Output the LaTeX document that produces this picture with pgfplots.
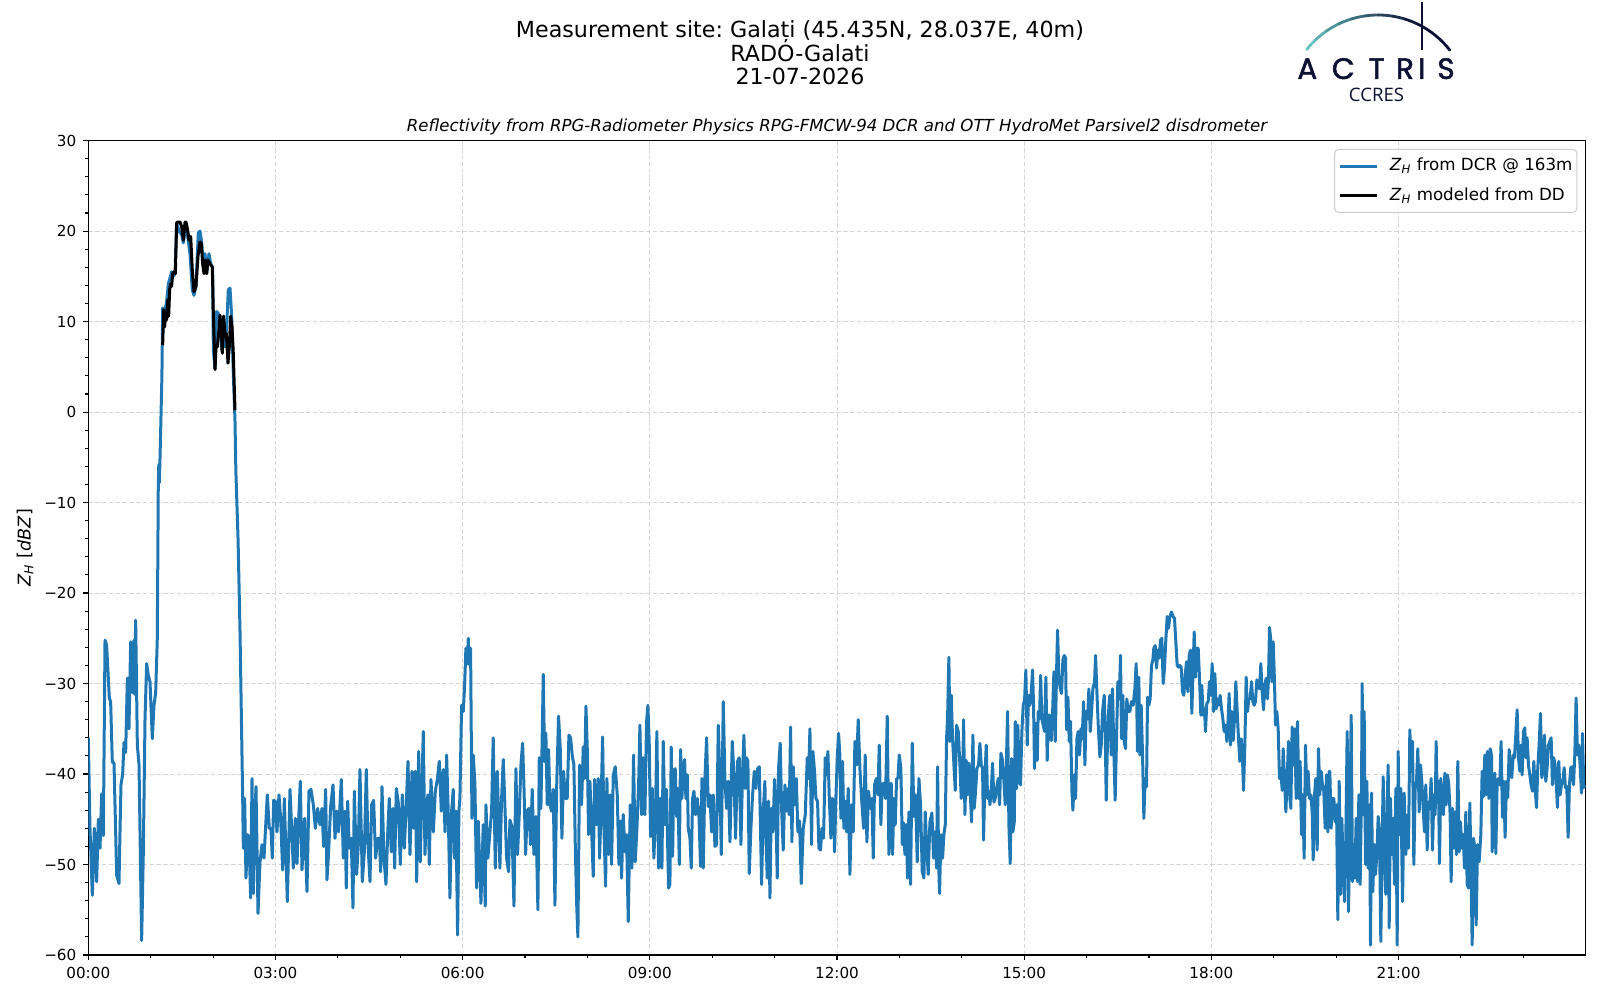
\documentclass[border=0pt]{standalone}
\usepackage{fontspec}
\setmainfont{DejaVu Sans}
\newfontfamily\logofont{Poppins}[FakeBold=1.6]
\newfontfamily\ccresfont{Open Sans}
\usepackage{pgfplots}
\pgfplotsset{compat=1.18}
\frenchspacing
\definecolor{mplblue}{HTML}{1F77B4}
\definecolor{gridgrey}{HTML}{D5D5D5}
\definecolor{legendgrey}{HTML}{CCCCCC}
\definecolor{navy}{HTML}{0D1235}
\definecolor{logoteal}{HTML}{66C2BE}
\begin{document}
\begin{tikzpicture}
\path[use as bounding box] (0,0) rectangle (800pt,500pt);
\begin{axis}[
  at={(44.15pt,22.5pt)}, anchor=south west,
  scale only axis, width=748.7pt, height=407.2pt,
  xmin=0, xmax=24, ymin=-60, ymax=30,
  xtick={0,3,6,9,12,15,18,21},
  xticklabels={00:00,03:00,06:00,09:00,12:00,15:00,18:00,21:00},
  minor xtick={1,2,4,5,7,8,10,11,13,14,16,17,19,20,22,23},
  ytick={-60,-50,-40,-30,-20,-10,0,10,20,30},
  yticklabels={−60,−50,−40,−30,−20,−10,0,10,20,30},
  minor ytick={-58,-56,-54,-52,-48,-46,-44,-42,-38,-36,-34,-32,-28,-26,-24,-22,-18,-16,-14,-12,-8,-6,-4,-2,2,4,6,8,12,14,16,18,22,24,26,28},
  tick align=outside, tick pos=left,
  major tick length=2.45pt, minor tick length=1.4pt,
  every tick/.style={black, line width=0.55pt},
  axis line style={line width=0.55pt},
  grid=major,
  major grid style={dash pattern=on 2.2pt off 1.2pt, color=gridgrey, line width=0.5pt},
  ticklabel style={font=\fontsize{7.6}{9}\selectfont},
  ylabel={\textit{Z}\textsubscript{\textit{H}} [\textit{dBZ}]},
  ylabel style={at={(axis description cs:-0.042,0.5)}, anchor=center, font=\fontsize{8.8}{10}\selectfont},
  legend cell align=left,
  legend style={at={(1,1)}, anchor=north east, xshift=-4.2pt, yshift=-4.15pt,
    draw=legendgrey, line width=0.5pt, rounded corners=2pt, fill=white, fill opacity=0.8, text opacity=1,
    font=\fontsize{8.35}{10}\selectfont, inner xsep=2.15pt, inner ysep=4.5pt, row sep=7.15pt,
    nodes={inner sep=0pt, text height=6pt, text depth=1.7pt}},
  legend image code/.code={\draw[#1, line width=1.5pt] (0pt,0pt) -- (18.3pt,0pt); \path (0pt,-1pt) (24pt,1pt);},
]
\addplot[color=mplblue, line width=1.5pt, line join=round] table {
x y
0.000 -36.0
0.027 -46.0
0.065 -53.4
0.097 -46.0
0.134 -51.9
0.161 -45.0
0.188 -48.2
0.214 -42.2
0.241 -46.8
0.268 -25.2
0.294 -25.8
0.337 -31.6
0.358 -32.0
0.385 -38.7
0.412 -38.8
0.455 -51.2
0.492 -52.1
0.508 -46.4
0.524 -41.2
0.551 -40.0
0.572 -36.5
0.599 -37.6
0.626 -29.4
0.652 -35.0
0.679 -25.4
0.706 -31.0
0.732 -25.2
0.743 -31.2
0.759 -23.0
0.786 -36.8
0.813 -39.0
0.855 -58.4
0.882 -48.6
0.909 -33.9
0.935 -27.8
0.962 -29.1
0.989 -29.8
1.026 -36.1
1.053 -32.4
1.080 -31.0
1.106 -25.0
1.122 -7.8
1.130 -5.8
1.140 -7.8
1.160 -2.0
1.180 4.0
1.192 11.5
1.229 11.3
1.256 12.2
1.283 14.2
1.309 14.8
1.336 15.5
1.363 15.0
1.390 15.3
1.416 20.9
1.454 20.0
1.496 19.6
1.523 18.7
1.560 20.5
1.593 19.4
1.630 17.5
1.667 13.5
1.694 12.9
1.726 13.9
1.763 19.8
1.790 20.0
1.817 18.8
1.844 16.1
1.870 17.5
1.897 15.3
1.934 17.5
1.961 16.4
1.993 16.0
2.004 6.9
2.031 4.8
2.057 11.1
2.084 10.9
2.111 10.2
2.137 6.9
2.164 10.2
2.191 7.2
2.218 9.5
2.244 13.5
2.271 13.7
2.298 10.6
2.324 4.3
2.351 -0.9
2.365 -6.5
2.400 -14.0
2.431 -24.0
2.474 -42.5
2.485 -48.2
2.506 -42.7
2.527 -51.5
2.554 -46.7
2.575 -47.1
2.602 -53.7
2.624 -40.5
2.645 -53.2
2.666 -45.2
2.688 -41.4
2.720 -55.4
2.752 -49.7
2.784 -47.8
2.816 -49.3
2.869 -42.3
2.901 -46.0
2.928 -46.0
2.949 -49.3
2.971 -42.9
2.998 -43.0
3.024 -46.4
3.056 -42.3
3.083 -44.9
3.115 -50.6
3.142 -42.7
3.190 -54.1
3.233 -41.7
3.286 -50.4
3.318 -44.9
3.345 -49.9
3.371 -45.2
3.398 -40.8
3.425 -50.6
3.468 -44.9
3.505 -53.0
3.537 -41.9
3.569 -41.7
3.607 -43.4
3.639 -46.0
3.676 -43.8
3.713 -45.6
3.745 -43.8
3.772 -48.0
3.804 -41.7
3.825 -51.7
3.852 -48.6
3.884 -43.6
3.922 -41.2
3.954 -47.1
3.980 -44.1
4.012 -46.4
4.055 -40.6
4.087 -49.3
4.114 -44.1
4.135 -52.6
4.157 -43.0
4.183 -48.2
4.215 -47.1
4.242 -54.8
4.264 -41.9
4.301 -51.1
4.328 -47.8
4.354 -39.5
4.392 -51.9
4.424 -48.6
4.456 -39.5
4.483 -47.8
4.515 -51.9
4.541 -43.4
4.573 -42.9
4.605 -49.3
4.637 -47.1
4.664 -47.1
4.686 -50.8
4.707 -41.4
4.739 -49.3
4.771 -52.2
4.798 -46.7
4.824 -42.7
4.856 -48.6
4.883 -43.8
4.910 -50.4
4.937 -41.6
4.969 -43.2
5.001 -50.0
5.033 -42.3
5.065 -48.2
5.092 -44.1
5.124 -38.6
5.156 -48.9
5.188 -39.7
5.214 -46.0
5.241 -39.7
5.263 -51.9
5.295 -37.5
5.321 -49.7
5.348 -41.2
5.369 -35.3
5.396 -48.9
5.423 -43.4
5.444 -42.3
5.465 -50.0
5.492 -40.6
5.530 -46.4
5.562 -41.9
5.594 -40.6
5.626 -38.6
5.658 -44.1
5.690 -39.5
5.717 -46.4
5.743 -37.9
5.770 -44.5
5.796 -53.7
5.823 -44.1
5.849 -41.7
5.871 -49.3
5.892 -44.1
5.919 -57.8
5.940 -44.1
5.956 -42.7
5.983 -32.4
6.010 -33.1
6.031 -30.3
6.052 -26.1
6.074 -27.8
6.090 -25.0
6.106 -27.9
6.127 -26.1
6.149 -44.9
6.170 -37.9
6.197 -41.2
6.223 -52.6
6.250 -45.2
6.293 -54.3
6.330 -45.6
6.362 -54.6
6.373 -43.4
6.405 -49.3
6.437 -46.4
6.464 -44.1
6.490 -36.0
6.523 -50.4
6.555 -39.7
6.581 -46.0
6.597 -50.4
6.624 -42.7
6.651 -38.4
6.677 -43.4
6.704 -49.3
6.736 -50.8
6.758 -45.1
6.790 -45.8
6.822 -54.6
6.854 -39.4
6.880 -48.9
6.907 -44.5
6.934 -39.0
6.961 -36.6
6.982 -41.2
7.009 -48.9
7.035 -44.1
7.062 -43.8
7.089 -47.8
7.115 -41.7
7.142 -48.9
7.174 -44.7
7.206 -55.0
7.228 -38.2
7.254 -43.8
7.270 -37.9
7.292 -29.0
7.313 -38.6
7.334 -35.5
7.356 -43.4
7.377 -37.3
7.399 -43.4
7.425 -44.1
7.452 -41.7
7.479 -54.5
7.505 -41.9
7.537 -33.6
7.564 -37.1
7.591 -47.1
7.618 -39.7
7.644 -42.7
7.676 -42.7
7.703 -35.7
7.730 -36.0
7.756 -37.9
7.783 -39.0
7.805 -47.8
7.826 -54.1
7.847 -58.0
7.874 -39.0
7.906 -43.4
7.933 -37.0
7.954 -40.5
7.976 -32.5
7.997 -37.1
8.018 -46.7
8.040 -40.8
8.066 -46.0
8.093 -51.3
8.114 -40.6
8.146 -45.6
8.173 -40.5
8.195 -49.3
8.216 -44.1
8.243 -35.9
8.264 -45.8
8.291 -52.4
8.312 -40.5
8.339 -48.9
8.366 -42.3
8.387 -50.0
8.414 -40.1
8.446 -39.2
8.478 -42.3
8.504 -50.0
8.531 -45.2
8.547 -51.5
8.574 -44.5
8.601 -48.6
8.627 -46.7
8.654 -56.3
8.686 -43.4
8.713 -50.4
8.739 -37.9
8.766 -49.7
8.793 -46.0
8.820 -41.2
8.841 -34.6
8.868 -44.5
8.894 -38.2
8.921 -44.5
8.948 -34.2
8.969 -32.4
8.990 -36.4
9.012 -46.9
9.039 -41.6
9.065 -49.3
9.092 -44.1
9.113 -35.3
9.140 -50.4
9.167 -42.7
9.194 -50.4
9.215 -36.4
9.242 -45.6
9.268 -41.7
9.300 -52.6
9.322 -52.2
9.343 -37.0
9.365 -49.1
9.386 -39.7
9.407 -39.4
9.429 -44.7
9.450 -41.6
9.472 -50.0
9.493 -37.3
9.514 -42.7
9.536 -39.4
9.557 -38.4
9.578 -42.7
9.600 -40.1
9.616 -46.0
9.643 -47.1
9.664 -50.4
9.685 -42.7
9.707 -41.9
9.733 -44.5
9.760 -42.7
9.787 -44.5
9.813 -50.2
9.835 -40.5
9.856 -50.4
9.883 -40.5
9.910 -36.0
9.936 -43.6
9.963 -42.3
9.990 -46.4
10.016 -42.3
10.043 -48.0
10.070 -47.8
10.097 -34.6
10.123 -40.5
10.145 -48.9
10.177 -32.0
10.203 -40.5
10.230 -43.8
10.257 -40.8
10.284 -47.5
10.321 -36.4
10.348 -40.1
10.374 -47.1
10.406 -38.6
10.433 -38.2
10.460 -47.8
10.487 -39.7
10.508 -35.7
10.529 -41.6
10.551 -38.2
10.572 -38.6
10.593 -51.0
10.620 -46.0
10.647 -42.3
10.674 -39.7
10.700 -41.6
10.727 -39.4
10.754 -39.2
10.775 -46.4
10.791 -52.2
10.818 -44.1
10.844 -40.8
10.860 -46.7
10.882 -51.5
10.903 -43.0
10.925 -53.7
10.946 -43.8
10.973 -46.4
10.999 -40.6
11.021 -44.1
11.042 -51.5
11.063 -39.4
11.090 -36.6
11.112 -43.8
11.138 -48.4
11.165 -41.2
11.192 -44.1
11.218 -41.6
11.234 -44.5
11.256 -34.8
11.277 -47.5
11.299 -39.2
11.325 -43.4
11.347 -40.5
11.373 -46.4
11.400 -45.2
11.427 -52.1
11.459 -46.0
11.491 -44.5
11.523 -38.2
11.544 -40.5
11.566 -35.0
11.592 -47.8
11.614 -37.5
11.640 -39.7
11.662 -42.7
11.688 -43.0
11.710 -48.2
11.736 -48.4
11.758 -46.0
11.785 -47.1
11.811 -38.2
11.833 -40.1
11.854 -37.5
11.875 -42.3
11.902 -47.1
11.924 -42.7
11.945 -43.0
11.961 -48.6
11.982 -42.7
12.004 -38.2
12.025 -35.5
12.046 -37.9
12.062 -44.9
12.089 -38.6
12.110 -46.0
12.132 -43.0
12.153 -46.4
12.180 -41.6
12.207 -51.1
12.233 -43.4
12.260 -46.4
12.287 -36.4
12.314 -39.0
12.340 -34.0
12.367 -39.4
12.394 -42.7
12.426 -46.0
12.452 -37.9
12.479 -47.5
12.506 -41.9
12.533 -43.8
12.559 -42.7
12.581 -49.3
12.602 -41.2
12.629 -40.5
12.655 -42.3
12.677 -36.8
12.703 -45.6
12.725 -41.2
12.752 -41.0
12.778 -42.7
12.805 -33.6
12.832 -48.9
12.848 -46.4
12.869 -41.0
12.891 -48.9
12.912 -42.7
12.933 -45.6
12.955 -40.5
12.976 -40.5
12.998 -37.9
13.024 -39.4
13.046 -47.8
13.067 -45.4
13.088 -48.9
13.110 -45.6
13.131 -51.5
13.152 -44.2
13.179 -52.2
13.206 -36.6
13.233 -44.7
13.259 -42.3
13.286 -49.7
13.313 -40.5
13.339 -43.4
13.366 -50.8
13.393 -51.5
13.414 -44.2
13.436 -47.8
13.462 -51.1
13.489 -45.3
13.521 -44.3
13.548 -49.3
13.575 -46.4
13.596 -50.4
13.612 -39.2
13.628 -49.7
13.644 -53.2
13.665 -46.7
13.692 -49.3
13.713 -46.7
13.735 -45.6
13.756 -36.1
13.772 -33.9
13.793 -27.1
13.810 -36.4
13.831 -31.3
13.852 -36.1
13.874 -39.0
13.895 -41.8
13.916 -34.6
13.943 -35.3
13.970 -39.0
13.991 -42.7
14.013 -40.5
14.029 -34.0
14.050 -44.5
14.071 -38.5
14.093 -42.3
14.114 -38.8
14.135 -41.9
14.157 -45.3
14.178 -35.7
14.199 -43.8
14.221 -41.9
14.242 -39.4
14.269 -39.0
14.290 -36.6
14.312 -39.0
14.333 -39.4
14.349 -47.3
14.370 -40.5
14.392 -36.8
14.413 -42.7
14.435 -41.9
14.451 -43.4
14.472 -41.9
14.493 -38.8
14.515 -43.1
14.536 -42.7
14.557 -41.6
14.584 -40.5
14.606 -43.4
14.627 -37.7
14.648 -38.3
14.675 -40.8
14.696 -43.4
14.718 -37.9
14.734 -33.1
14.755 -45.6
14.776 -49.9
14.798 -38.3
14.819 -46.4
14.841 -45.3
14.857 -34.2
14.878 -41.6
14.899 -34.6
14.921 -40.8
14.942 -41.2
14.963 -35.3
14.985 -32.4
15.006 -31.8
15.027 -28.5
15.049 -36.8
15.070 -31.3
15.092 -32.4
15.113 -31.1
15.134 -28.5
15.150 -32.4
15.166 -39.4
15.188 -34.4
15.209 -38.5
15.225 -33.1
15.246 -33.9
15.263 -29.1
15.284 -33.9
15.305 -34.6
15.327 -35.3
15.348 -29.3
15.369 -38.5
15.391 -33.5
15.412 -33.5
15.434 -36.3
15.455 -33.3
15.476 -28.7
15.498 -36.4
15.519 -28.7
15.535 -24.1
15.556 -29.4
15.578 -30.5
15.599 -31.1
15.620 -27.4
15.642 -26.9
15.663 -27.2
15.679 -35.1
15.701 -31.5
15.722 -36.4
15.743 -34.2
15.765 -41.9
15.781 -44.0
15.802 -40.1
15.824 -42.7
15.845 -36.1
15.866 -35.3
15.888 -37.9
15.909 -35.0
15.930 -36.1
15.952 -32.0
15.973 -39.0
15.994 -33.1
16.016 -33.9
16.037 -30.6
16.059 -35.3
16.080 -33.1
16.101 -30.6
16.128 -29.8
16.144 -26.9
16.165 -30.9
16.187 -34.6
16.213 -38.1
16.235 -36.8
16.256 -33.1
16.283 -31.3
16.299 -35.3
16.315 -42.9
16.336 -36.1
16.358 -32.4
16.373 -31.3
16.394 -37.9
16.416 -30.6
16.437 -37.5
16.458 -42.9
16.480 -36.1
16.501 -29.8
16.523 -31.7
16.544 -26.9
16.560 -36.1
16.581 -31.3
16.603 -36.4
16.624 -37.2
16.645 -31.7
16.667 -33.1
16.694 -33.1
16.720 -32.0
16.747 -32.4
16.774 -30.6
16.795 -27.8
16.816 -37.5
16.838 -29.3
16.854 -37.9
16.875 -32.4
16.897 -37.9
16.918 -44.9
16.939 -40.5
16.961 -41.4
16.977 -31.5
16.998 -32.4
17.019 -31.7
17.041 -28.0
17.062 -27.4
17.078 -26.1
17.100 -25.8
17.121 -28.3
17.142 -26.3
17.164 -27.2
17.185 -25.2
17.206 -25.0
17.228 -30.0
17.249 -28.3
17.270 -25.2
17.292 -22.6
17.313 -23.9
17.335 -22.6
17.361 -22.1
17.388 -22.6
17.409 -22.8
17.431 -25.4
17.452 -28.0
17.473 -28.2
17.495 -28.0
17.516 -28.2
17.538 -30.9
17.559 -31.3
17.580 -29.1
17.602 -27.6
17.623 -30.9
17.644 -26.9
17.666 -26.3
17.687 -33.3
17.709 -28.0
17.725 -24.3
17.746 -29.3
17.767 -26.1
17.789 -26.1
17.810 -29.4
17.831 -33.5
17.847 -30.2
17.869 -33.5
17.890 -32.8
17.906 -35.3
17.927 -32.2
17.949 -32.0
17.970 -29.8
17.992 -31.3
18.013 -27.8
18.034 -33.1
18.056 -28.9
18.077 -32.8
18.098 -31.7
18.120 -32.4
18.141 -31.3
18.163 -32.8
18.184 -33.9
18.205 -35.3
18.227 -34.6
18.248 -36.4
18.269 -33.9
18.285 -31.1
18.307 -36.8
18.328 -33.1
18.350 -36.3
18.371 -33.9
18.392 -29.8
18.414 -33.1
18.435 -36.1
18.456 -38.6
18.478 -36.1
18.499 -38.3
18.515 -41.8
18.537 -36.8
18.558 -29.3
18.579 -33.1
18.601 -31.7
18.622 -31.7
18.643 -29.8
18.665 -32.0
18.686 -32.4
18.707 -32.0
18.729 -29.6
18.750 -29.8
18.772 -30.6
18.793 -27.8
18.814 -30.9
18.836 -32.9
18.857 -30.2
18.878 -29.4
18.900 -31.7
18.916 -29.4
18.932 -23.8
18.953 -25.2
18.969 -29.8
18.991 -25.4
19.012 -29.8
19.028 -34.6
19.049 -33.1
19.071 -35.0
19.092 -40.5
19.113 -39.4
19.135 -41.8
19.151 -37.2
19.172 -40.5
19.194 -44.2
19.215 -40.5
19.236 -36.4
19.258 -42.7
19.274 -43.8
19.295 -34.8
19.316 -39.0
19.338 -35.0
19.359 -42.7
19.381 -34.2
19.402 -42.7
19.423 -38.6
19.445 -46.7
19.466 -42.3
19.487 -49.3
19.509 -36.8
19.530 -42.3
19.551 -39.7
19.573 -42.7
19.594 -42.3
19.616 -44.2
19.632 -49.5
19.653 -42.3
19.674 -40.5
19.696 -48.4
19.717 -37.2
19.738 -42.3
19.760 -39.7
19.781 -41.2
19.802 -41.9
19.824 -46.0
19.845 -40.1
19.867 -46.4
19.888 -39.7
19.899 -39.7
19.920 -46.0
19.942 -42.7
19.963 -42.7
19.984 -45.3
20.006 -43.4
20.027 -56.1
20.049 -40.8
20.070 -53.3
20.091 -44.9
20.113 -50.0
20.134 -54.1
20.155 -47.1
20.177 -35.3
20.198 -55.2
20.220 -45.6
20.241 -33.5
20.262 -51.9
20.284 -47.8
20.300 -51.5
20.321 -44.9
20.342 -51.9
20.364 -42.3
20.385 -52.2
20.406 -42.3
20.417 -30.0
20.433 -44.5
20.449 -33.1
20.471 -50.0
20.492 -40.8
20.513 -50.4
20.535 -43.4
20.551 -58.9
20.567 -42.1
20.588 -53.0
20.609 -47.8
20.631 -51.1
20.652 -48.9
20.674 -44.7
20.695 -46.7
20.716 -58.5
20.738 -47.5
20.754 -40.3
20.775 -49.7
20.796 -53.3
20.818 -43.1
20.834 -39.0
20.850 -57.0
20.871 -42.7
20.893 -48.9
20.914 -44.9
20.935 -52.2
20.957 -41.6
20.978 -58.9
20.994 -37.5
21.015 -46.7
21.037 -41.6
21.064 -54.1
21.090 -42.1
21.117 -48.9
21.144 -44.5
21.160 -48.2
21.181 -35.1
21.202 -39.7
21.224 -36.4
21.245 -50.0
21.267 -41.6
21.288 -40.8
21.309 -37.2
21.331 -44.2
21.352 -39.0
21.373 -40.8
21.395 -43.8
21.416 -46.4
21.437 -41.2
21.459 -48.4
21.480 -43.1
21.502 -43.4
21.523 -40.5
21.544 -48.4
21.566 -42.3
21.587 -44.5
21.603 -36.4
21.619 -42.7
21.640 -40.8
21.656 -49.9
21.678 -40.5
21.699 -43.4
21.721 -44.5
21.742 -39.9
21.763 -43.4
21.785 -40.1
21.806 -41.2
21.827 -44.5
21.843 -51.9
21.865 -43.8
21.886 -48.2
21.908 -44.2
21.929 -48.9
21.950 -38.6
21.972 -48.6
21.993 -45.3
22.014 -48.2
22.036 -46.7
22.057 -50.4
22.078 -44.2
22.100 -52.2
22.121 -52.6
22.143 -43.2
22.164 -51.5
22.180 -58.9
22.201 -47.1
22.223 -48.2
22.244 -56.7
22.266 -47.8
22.292 -49.7
22.319 -46.7
22.340 -39.7
22.362 -42.5
22.383 -37.9
22.404 -42.3
22.426 -37.5
22.447 -42.7
22.469 -37.2
22.490 -37.9
22.501 -48.6
22.522 -40.8
22.543 -39.9
22.559 -48.8
22.581 -40.8
22.602 -40.5
22.623 -41.2
22.644 -36.4
22.666 -44.8
22.687 -40.8
22.708 -47.0
22.730 -40.8
22.751 -42.6
22.773 -37.3
22.794 -39.7
22.815 -40.4
22.837 -37.9
22.858 -38.2
22.879 -35.7
22.901 -32.9
22.922 -38.2
22.944 -39.7
22.965 -36.8
22.981 -40.1
23.002 -35.3
23.024 -34.9
23.040 -38.2
23.061 -36.0
23.082 -39.0
23.104 -40.1
23.125 -41.2
23.147 -41.9
23.168 -38.6
23.189 -41.5
23.211 -43.7
23.232 -39.3
23.253 -36.8
23.275 -33.3
23.296 -40.4
23.317 -39.7
23.339 -35.7
23.360 -40.8
23.382 -39.3
23.403 -36.8
23.424 -36.4
23.446 -36.0
23.467 -41.2
23.488 -38.2
23.510 -39.0
23.531 -41.5
23.547 -43.7
23.568 -38.6
23.590 -42.3
23.611 -41.2
23.633 -40.8
23.654 -39.3
23.675 -41.5
23.697 -41.4
23.718 -47.0
23.739 -41.2
23.761 -39.3
23.782 -39.2
23.804 -41.2
23.825 -37.9
23.846 -31.6
23.868 -37.9
23.889 -36.8
23.910 -39.0
23.932 -42.1
23.948 -35.5
23.969 -41.5
23.985 -41.2
};
\addlegendentry{\textit{Z}\textsubscript{\textit{H}} from DCR @ 163m}
\addplot[color=black, line width=1.5pt, line join=round] table {
x y
1.192 7.4
1.208 11.3
1.224 9.4
1.240 10.9
1.256 10.2
1.272 12.4
1.288 10.6
1.304 13.5
1.320 14.2
1.336 13.9
1.352 15.3
1.374 15.5
1.395 15.3
1.416 20.9
1.432 21.0
1.470 21.0
1.496 20.5
1.523 19.0
1.550 21.0
1.566 21.0
1.593 20.1
1.614 19.0
1.641 19.4
1.667 15.7
1.694 13.3
1.726 13.9
1.758 17.2
1.790 18.8
1.812 18.6
1.833 16.4
1.854 15.3
1.876 16.8
1.897 15.3
1.918 16.8
1.950 16.4
1.988 16.0
2.004 10.9
2.031 4.7
2.047 7.2
2.068 7.2
2.089 8.7
2.111 10.7
2.132 8.7
2.148 6.5
2.169 10.6
2.191 8.3
2.212 8.7
2.239 5.4
2.260 7.2
2.282 10.6
2.303 9.4
2.324 6.5
2.351 0.2
};
\addlegendentry{\textit{Z}\textsubscript{\textit{H}} modeled from DD}
\end{axis}
% titles
\node[anchor=base, inner sep=0pt, font=\fontsize{11.1}{13}\selectfont] at (400pt,481pt) {Measurement site: Galați (45.435N, 28.037E, 40m)};
\node[anchor=base, inner sep=0pt, font=\fontsize{11.1}{13}\selectfont] at (400pt,469.25pt) {RADO-Galati};
\node[anchor=base, inner sep=0pt, font=\fontsize{11.1}{13}\selectfont] at (400pt,457.5pt) {21-07-2026};
\node[anchor=base, inner sep=0pt, font=\fontsize{8.3}{10}\selectfont\itshape] at (418.5pt,434.25pt) {Reflectivity from RPG-Radiometer Physics RPG-FMCW-94 DCR and OTT HydroMet Parsivel2 disdrometer};
% logo
\foreach \i in {0,...,11} {
  \pgfmathsetmacro\sa{141.6-8.65*\i}
  \pgfmathsetmacro\ea{\sa-8.65}
  \pgfmathtruncatemacro\p{min(100,\i*12)}
  \draw[line width=1.4pt, line cap=round, color=navy!\p!logoteal] ([shift={(\sa:45.4pt)}]689pt,447.1pt) arc[start angle=\sa, end angle=\ea, radius=45.4pt];
}
\draw[navy, line width=1pt] (710.85pt,475pt) -- (710.85pt,499.2pt);
\foreach \x/\l in {653.65/A,671.65/C,688.35/T,702.5/R,710.85/I,723/S} {
  \node[anchor=base, inner sep=0pt, text=navy, font=\logofont\fontsize{14.8}{16}\selectfont] at (\x pt,460.5pt) {\l};
}
\node[anchor=base, inner sep=0pt, text=navy, font=\ccresfont\fontsize{9.3}{11}\selectfont] at (688.25pt,449.3pt) {CCRES};
\end{tikzpicture}
\end{document}
